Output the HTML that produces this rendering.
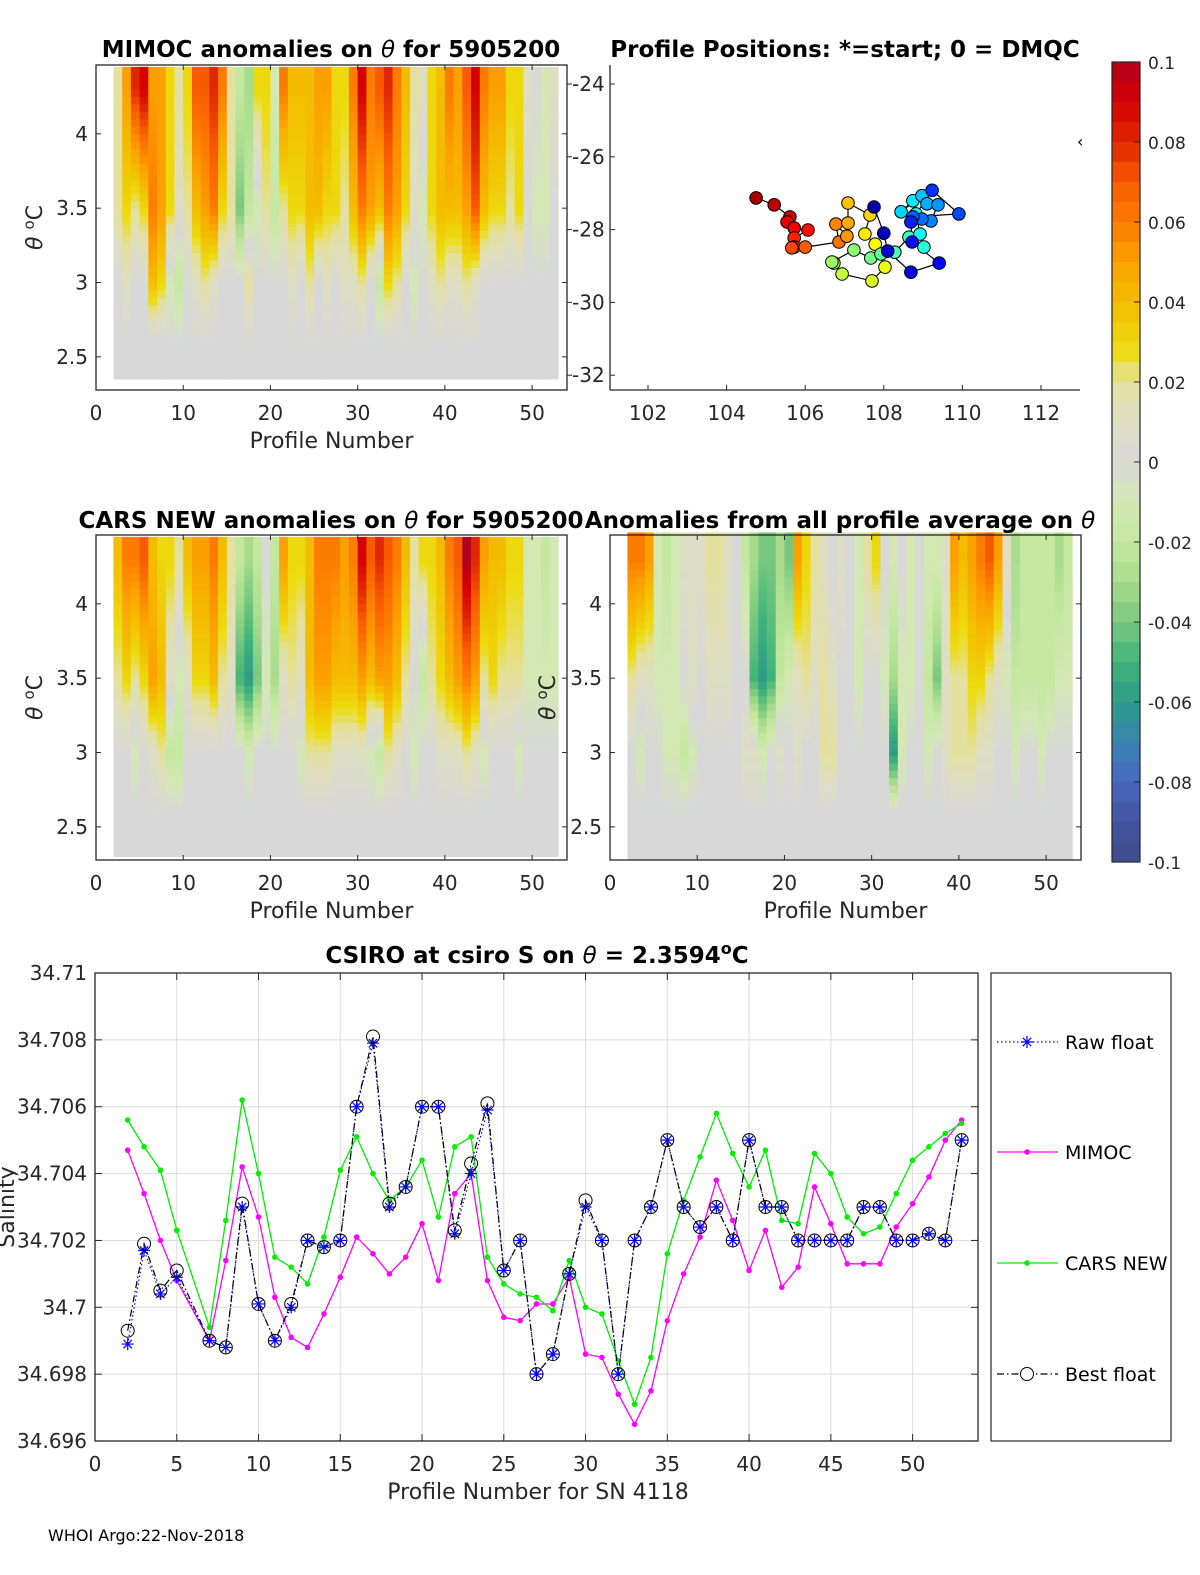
<!DOCTYPE html>
<html><head><meta charset="utf-8"><style>
html,body{margin:0;padding:0;background:#fff;width:1200px;height:1575px;overflow:hidden;}
svg{display:block;font-family:"DejaVu Sans","Liberation Sans",sans-serif;}
.t{font-size:23px;font-weight:bold;fill:#000;}
</style></head><body>
<svg id="fig" width="1200" height="1575" viewBox="0 0 1200 1575" xmlns="http://www.w3.org/2000/svg">
<g id="hm1"></g>
<g id="hm2"></g>
<g id="hm3"></g>
<g id="map"></g>
<g id="cbar"></g>
<g id="sal"></g>
<text class="t" x="331" y="57" text-anchor="middle">MIMOC anomalies on <tspan font-style="italic" font-weight="normal">θ</tspan>  for 5905200</text>
<text class="t" x="845" y="57" text-anchor="middle">Profile Positions: *=start; 0 = DMQC</text>
<text class="t" x="331" y="528" text-anchor="middle">CARS NEW anomalies on <tspan font-style="italic" font-weight="normal">θ</tspan> for 5905200</text>
<text class="t" x="840" y="528" text-anchor="middle">Anomalies from all profile average on <tspan font-style="italic" font-weight="normal">θ</tspan></text>
<text class="t" x="537" y="963" text-anchor="middle">CSIRO at csiro S on <tspan font-style="italic" font-weight="normal">θ</tspan> = 2.3594<tspan dy="-9" font-size="16">o</tspan><tspan dy="9">C</tspan></text>
<text x="48" y="1541" font-size="16" fill="#000">WHOI Argo:22-Nov-2018</text>
<text x="1077" y="147" font-size="16" fill="#000">‹</text>
</svg>
<script>
// ---------- heatmap data (units of 0.01 anomaly) at theta ~4.3 / ~3.5 / ~3.0 ----------
const profiles=[2,3,4,5,6,7,8,9,10,11,12,13,14,15,16,17,18,19,20,21,22,23,24,25,26,27,28,29,30,31,32,33,34,35,36,37,38,39,40,41,42,43,44,45,46,47,48,49,50,51,52];
const mimocTop=[2,5,8,9,5,5,3,2,3,7,7,8,6,2,-2,-3,3,3,-1,6,4,4,4,5,5,3,3,6,9,6,7,8,6,4,2,1,3,4,6,5,7,9,6,5,5,3,3,1,0,-1,1];
const mimocMid=[2,3,2,3,6,5,3,1,2,4,5,6,3,2,-4,-2,-1,2,-2,2,3,3,4,4,3,3,2,4,6,5,4,6,5,3,1,-1,3,4,4,4,5,7,4,3,3,2,3,0,-1,-1,0];
const mimocLow=[0,1,0,0,4,3,-1,-2,0,1,2,1,0,0,0,2,0,0,0,0,1,0,2,0,1,0,1,1,2,0,-2,3,2,0,-1,0,1,2,1,1,2,1,0,0,0,0,0,0,0,0,0];
const carsTop=[4,6,6,7,4,3,3,2,4,5,5,6,4,2,-2,-3,-2,0,-2,5,3,3,4,6,6,6,5,6,9,7,8,7,6,4,2,3,3,4,6,7,10,8,5,4,4,3,3,-1,-1,-2,-1];
const carsMid=[2,3,2,3,5,4,1,-1,1,3,3,4,2,1,-5,-6,-4,-1,-3,1,2,1,4,5,5,4,4,4,5,4,5,5,4,2,0,-2,2,3,4,5,6,5,2,3,2,2,2,-1,-1,-1,-1];
const carsLow=[0,0,-1,0,1,2,-2,-2,0,0,0,0,0,0,0,-1,0,0,0,0,0,-1,2,2,2,1,1,1,1,-1,-2,2,1,0,-1,0,0,1,1,1,2,1,-1,0,0,0,-1,0,0,0,0];
const avgTop=[6,6,5,-1,-2,-1,1,1,1,2,2,1,0,-2,-3,-4,-4,-3,-4,5,3,2,1,0,1,0,-1,2,3,0,-1,0,-1,0,-1,-1,1,5,4,5,6,7,5,1,-3,-2,-2,-2,-2,-3,-2];
const avgMid=[2,1,1,-1,-1,-1,0,1,0,1,1,1,0,0,-5,-6,-5,-2,-1,1,2,1,2,1,0,0,-1,0,0,-1,-3,-1,-1,0,-2,-4,1,2,2,3,3,2,1,-1,-2,-2,-2,-2,-2,-1,-1];
const avgLow=[0,-1,0,0,-1,-1,-2,-1,0,0,0,0,0,1,1,-1,0,1,0,1,0,0,2,2,0,0,0,0,0,0,-6,-1,0,0,-1,0,1,2,2,2,1,1,0,0,-1,0,0,-1,0,0,0];

// ---------- salinity chart data ----------
const profNum=[2,3,4,5,7,8,9,10,11,12,13,14,15,16,17,18,19,20,21,22,23,24,25,26,27,28,29,30,31,32,33,34,35,36,37,38,39,40,41,42,43,44,45,46,47,48,49,50,51,52,53];
const rawFloat=[34.6989,34.7017,34.7004,34.7009,34.6990,34.6988,34.7030,34.7001,34.6990,34.7000,34.7020,34.7018,34.7020,34.7060,34.7079,34.7030,34.7036,34.7060,34.7060,34.7022,34.7040,34.7059,34.7011,34.7020,34.6980,34.6986,34.7010,34.7030,34.7020,34.6980,34.7020,34.7030,34.7050,34.7030,34.7024,34.7030,34.7020,34.7050,34.7030,34.7030,34.7020,34.7020,34.7020,34.7020,34.7030,34.7030,34.7020,34.7020,34.7022,34.7020,34.7050];
const bestFloat=[34.6993,34.7019,34.7005,34.7011,34.6990,34.6988,34.7031,34.7001,34.6990,34.7001,34.7020,34.7018,34.7020,34.7060,34.7081,34.7031,34.7036,34.7060,34.7060,34.7023,34.7043,34.7061,34.7011,34.7020,34.6980,34.6986,34.7010,34.7032,34.7020,34.6980,34.7020,34.7030,34.7050,34.7030,34.7024,34.7030,34.7020,34.7050,34.7030,34.7030,34.7020,34.7020,34.7020,34.7020,34.7030,34.7030,34.7020,34.7020,34.7022,34.7020,34.7050];
const mimocS=[34.7047,34.7034,34.7020,34.7008,34.6990,34.7014,34.7042,34.7027,34.7003,34.6991,34.6988,34.6998,34.7009,34.7021,34.7016,34.7010,34.7015,34.7025,34.7008,34.7034,34.7040,34.7008,34.6997,34.6996,34.7001,34.7001,34.7009,34.6986,34.6985,34.6974,34.6965,34.6975,34.6996,34.7010,34.7021,34.7038,34.7026,34.7011,34.7023,34.7006,34.7012,34.7036,34.7025,34.7013,34.7013,34.7013,34.7024,34.7031,34.7039,34.7050,34.7056];
const carsS=[34.7056,34.7048,34.7041,34.7023,34.6994,34.7026,34.7062,34.7040,34.7015,34.7012,34.7007,34.7021,34.7041,34.7051,34.7040,34.7032,34.7036,34.7044,34.7027,34.7048,34.7051,34.7015,34.7007,34.7004,34.7003,34.6999,34.7014,34.7000,34.6998,34.6984,34.6971,34.6985,34.7016,34.7032,34.7045,34.7058,34.7046,34.7036,34.7047,34.7026,34.7025,34.7046,34.7040,34.7027,34.7022,34.7024,34.7034,34.7044,34.7048,34.7052,34.7055];
const salTicks=[34.696,34.698,34.7,34.702,34.704,34.706,34.708,34.71];
const salTickLabels=["34.696","34.698","34.7","34.702","34.704","34.706","34.708","34.71"];
const xTicksS=[0,5,10,15,20,25,30,35,40,45,50];

// ---------- map data ----------
const mapLon=[104.75,105.21,105.61,105.54,105.72,106.07,105.72,105.72,105.66,106.0,106.86,106.78,107.06,107.09,107.09,107.65,107.52,107.78,108.03,107.70,106.94,106.73,106.68,107.24,107.67,107.93,108.28,108.64,109.02,108.92,108.82,108.74,108.44,108.97,109.10,109.38,109.20,108.97,108.74,109.91,109.23,108.69,108.72,109.41,108.69,108.10,108.00,107.75];
const mapLat=[-27.13,-27.32,-27.65,-27.79,-27.96,-28.01,-28.23,-28.48,-28.50,-28.48,-28.34,-27.85,-28.18,-27.82,-27.27,-27.60,-28.12,-28.40,-29.03,-29.41,-29.22,-28.92,-28.89,-28.56,-28.78,-28.67,-28.62,-28.21,-28.48,-28.12,-27.57,-27.21,-27.51,-27.07,-27.29,-27.32,-27.76,-27.71,-27.65,-27.57,-26.92,-27.79,-28.34,-28.92,-29.17,-28.59,-28.10,-27.38];
const mapXTicks=[102,104,106,108,110,112];
const mapYTicks=[-24,-26,-28,-30,-32];

const cbTicks=[0.1,0.08,0.06,0.04,0.02,0,-0.02,-0.04,-0.06,-0.08,-0.1];
const cbTickLabels=["0.1","0.08","0.06","0.04","0.02","0","-0.02","-0.04","-0.06","-0.08","-0.1"];
const thetaTicks=[2.5,3,3.5,4];
const profTicks=[0,10,20,30,40,50];

const cmStops=[[-0.1,[60,76,136]],[-0.09,[68,84,160]],[-0.08,[72,104,192]],[-0.07,[58,132,176]],[-0.06,[44,156,136]],[-0.05,[64,180,120]],[-0.04,[120,200,128]],[-0.03,[168,220,140]],[-0.02,[196,232,160]],[-0.01,[212,232,180]],[0,[216,216,216]],[0.01,[222,222,196]],[0.02,[228,224,160]],[0.028,[236,220,16]],[0.04,[244,188,0]],[0.05,[252,160,0]],[0.06,[252,124,0]],[0.07,[248,90,0]],[0.08,[224,40,0]],[0.09,[212,0,0]],[0.1,[176,0,30]]];
function cmap(v){
  v=Math.max(-0.1,Math.min(0.1,v));
  for(let i=0;i<cmStops.length-1;i++){const a=cmStops[i],b=cmStops[i+1];
    if(v<=b[0]){const f=(v-a[0])/(b[0]-a[0]);const c=a[1].map((x,j)=>Math.round(x+(b[1][j]-x)*f));return `rgb(${c[0]},${c[1]},${c[2]})`;}}
  return 'rgb(176,0,30)';
}
function jet(f){
  const r=Math.max(0,Math.min(1,1.5-Math.abs(4*f-3))),g=Math.max(0,Math.min(1,1.5-Math.abs(4*f-2))),b=Math.max(0,Math.min(1,1.5-Math.abs(4*f-1)));
  return `rgb(${Math.round(r*255)},${Math.round(g*255)},${Math.round(b*255)})`;
}
const NS='http://www.w3.org/2000/svg';
function mk(tag,attrs,parent){const e=document.createElementNS(NS,tag);for(const k in attrs)e.setAttribute(k,attrs[k]);parent.appendChild(e);return e;}
function txt(parent,x,y,s,anchor,size){const e=mk('text',{x:x,y:y,'text-anchor':anchor||'middle','font-size':size||20,fill:'#262626'},parent);e.textContent=s;return e;}

function profileAt(t,top,mid,low){
  if(t>=4.3)return top;
  if(t>=3.5)return mid+(top-mid)*(t-3.5)/0.8;
  if(t>=3.0)return low+(mid-low)*(t-3.0)/0.5;
  if(t>=2.6)return low*(t-2.6)/0.4;
  return 0;
}
function heatmap(gid,x0,y0,w,h,tops,mids,lows,tMin,tMax,yTitleX){
  const g=document.getElementById(gid);
  const sx=p=>x0+p*(w/54), sy=t=>y0+(4.4628-t)*148.7;
  profiles.forEach((p,i)=>{
    for(let t=tMin;t<tMax-0.001;t+=0.05){
      const v=profileAt(t+0.025,tops[i],mids[i],lows[i])/100;
      const r=mk('rect',{x:sx(p).toFixed(2),y:sy(t+0.05).toFixed(2),width:(w/54+0.4).toFixed(2),height:(0.05*148.7+0.4).toFixed(2),fill:cmap(v)},g);
      
      
    }
  });
  mk('rect',{x:x0,y:y0,width:w,height:h,fill:'none',stroke:'#262626','stroke-width':1.3},g);
  profTicks.forEach(p=>{mk('line',{x1:sx(p),x2:sx(p),y1:y0+h,y2:y0+h-5,stroke:'#262626'},g);mk('line',{x1:sx(p),x2:sx(p),y1:y0,y2:y0+5,stroke:'#262626'},g);
    const l=txt(g,sx(p),y0+h+30,String(p));});
  thetaTicks.forEach(t=>{mk('line',{x1:x0,x2:x0+5,y1:sy(t),y2:sy(t),stroke:'#262626'},g);mk('line',{x1:x0+w,x2:x0+w-5,y1:sy(t),y2:sy(t),stroke:'#262626'},g);
    const l=txt(g,x0-8,sy(t)+7,String(t),'end');});
  const xt=txt(g,x0+w/2,y0+h+58,'Profile Number','middle',22);
  
  const yt=mk('text',{transform:`translate(${yTitleX},${y0+h/2}) rotate(-90)`,'text-anchor':'middle','font-size':22,fill:'#262626'},g);
  yt.innerHTML='<tspan font-style="italic">θ</tspan> <tspan dy="-8" font-size="15">o</tspan><tspan dy="8">C</tspan>';
  
}
heatmap('hm1',96,65,471,325,mimocTop,mimocMid,mimocLow,2.35,4.41,42);
heatmap('hm2',96,535,471,325,carsTop,carsMid,carsLow,2.3,4.43,42);
heatmap('hm3',610,535,471,325,avgTop,avgMid,avgLow,2.28,4.44,555);

// ---------- profile position map ----------
(function(){
  const g=document.getElementById('map');
  const x0=610,y0=65,w=470,h=325;
  const lx=lon=>648+(lon-102)*39.3, ly=lat=>84+(-24-lat)*36.4;
  mk('line',{x1:x0,y1:y0,x2:x0,y2:y0+h,stroke:'#262626','stroke-width':1.3},g);
  mk('line',{x1:x0,y1:y0+h,x2:x0+w,y2:y0+h,stroke:'#262626','stroke-width':1.3},g);
  let d='';mapLon.forEach((v,i)=>{d+=(i?'L':'M')+lx(v).toFixed(1)+','+ly(mapLat[i]).toFixed(1);});
  const path=mk('path',{d:d,fill:'none',stroke:'#000','stroke-width':1.2},g);
  
  
  const n=mapLon.length;
  mapLon.forEach((v,i)=>{
    const c=mk('circle',{cx:lx(v).toFixed(1),cy:ly(mapLat[i]).toFixed(1),r:6.3,fill:jet(1-i/(n-1)*0.92-0.04),stroke:'#000','stroke-width':1},g);
    
    
  });
  mapXTicks.forEach(t=>{mk('line',{x1:lx(t),x2:lx(t),y1:y0+h,y2:y0+h-5,stroke:'#262626'},g);
    const l=txt(g,lx(t),y0+h+30,String(t));});
  mapYTicks.forEach(t=>{mk('line',{x1:x0,x2:x0+5,y1:ly(t),y2:ly(t),stroke:'#262626'},g);
    mk('line',{x1:567,x2:572,y1:ly(t),y2:ly(t),stroke:'#262626'},g);
    const l=txt(g,572,ly(t)+7,String(t),'start');});
})();

// ---------- colorbar ----------
(function(){
  const g=document.getElementById('cbar');
  const x0=1112,y0=62,w=28,h=800;
  const cy=v=>y0+(0.1-v)/0.2*h;
  for(let i=0;i<40;i++){const v=0.1-(i+0.5)*0.005;mk('rect',{x:x0,y:(y0+i*h/40).toFixed(2),width:w,height:(h/40+0.5).toFixed(2),fill:cmap(v)},g);}
  mk('rect',{x:x0,y:y0,width:w,height:h,fill:'none',stroke:'#262626','stroke-width':1.2},g);
  cbTicks.forEach((t,i)=>{mk('line',{x1:x0+w-6,x2:x0+w,y1:cy(t),y2:cy(t),stroke:'#262626'},g);
    const l=txt(g,x0+36,cy(t)+7,cbTickLabels[i],'start',17);});
})();

// ---------- salinity chart ----------
(function(){
  const g=document.getElementById('sal');
  const x0=95,y0=973,w=883,h=468;
  const sx=p=>x0+p*(w/54), sy=v=>y0+(34.71-v)/0.002*66.86;
  const yt=mk('text',{transform:`translate(14,${y0+h/2}) rotate(-90)`,'text-anchor':'middle','font-size':22,fill:'#262626'},g);
  yt.textContent='Salinity';
  
  xTicksS.forEach(p=>{mk('line',{x1:sx(p),x2:sx(p),y1:y0,y2:y0+h,stroke:'#dcdcdc'},g);});
  salTicks.forEach(v=>{mk('line',{x1:x0,x2:x0+w,y1:sy(v),y2:sy(v),stroke:'#dcdcdc'},g);});
  mk('rect',{x:x0,y:y0,width:w,height:h,fill:'none',stroke:'#262626','stroke-width':1.3},g);
  xTicksS.forEach(p=>{mk('line',{x1:sx(p),x2:sx(p),y1:y0,y2:y0+7,stroke:'#262626'},g);mk('line',{x1:sx(p),x2:sx(p),y1:y0+h,y2:y0+h-7,stroke:'#262626'},g);
    const l=txt(g,sx(p),y0+h+30,String(p));});
  salTicks.forEach((v,i)=>{mk('line',{x1:x0,x2:x0+7,y1:sy(v),y2:sy(v),stroke:'#262626'},g);mk('line',{x1:x0+w,x2:x0+w-7,y1:sy(v),y2:sy(v),stroke:'#262626'},g);
    const l=mk('text',{x:x0-8,y:sy(v)+7,'text-anchor':'end','font-size':20,fill:'#262626',stroke:'#fff','stroke-width':4,'paint-order':'stroke'},g);l.textContent=salTickLabels[i];});
  const xt=txt(g,538,y0+h+58,'Profile Number for SN 4118','middle',22);
  
  function pathOf(arr){return arr.map((v,i)=>(i?'L':'M')+sx(profNum[i]).toFixed(1)+','+sy(v).toFixed(1)).join('');}
  const pm=mk('path',{d:pathOf(mimocS),fill:'none',stroke:'#ff00ff','stroke-width':1.3},g);
  
  const pc=mk('path',{d:pathOf(carsS),fill:'none',stroke:'#00ee00','stroke-width':1.3},g);
  
  mimocS.forEach((v,i)=>{const c=mk('circle',{cx:sx(profNum[i]),cy:sy(v),r:2.8,fill:'#ff00ff'},g);});
  carsS.forEach((v,i)=>{const c=mk('circle',{cx:sx(profNum[i]),cy:sy(v),r:2.8,fill:'#00ee00'},g);});
  const pr=mk('path',{d:pathOf(rawFloat),fill:'none',stroke:'#0000ff','stroke-width':1.2,'stroke-dasharray':'1.5,2.5'},g);
  
  const pb=mk('path',{d:pathOf(bestFloat),fill:'none',stroke:'#000','stroke-width':1.2,'stroke-dasharray':'7,3,1.5,3'},g);
  
  function star(cx,cy,parent){const s=6;let d=`M${cx-s},${cy}L${cx+s},${cy}M${cx},${cy-s}L${cx},${cy+s}M${cx-s*0.7},${cy-s*0.7}L${cx+s*0.7},${cy+s*0.7}M${cx-s*0.7},${cy+s*0.7}L${cx+s*0.7},${cy-s*0.7}`;return mk('path',{d:d,stroke:'#0000ff','stroke-width':1.2,fill:'none'},parent);}
  rawFloat.forEach((v,i)=>{const s=star(sx(profNum[i]),sy(v),g);});
  bestFloat.forEach((v,i)=>{const c=mk('circle',{cx:sx(profNum[i]),cy:sy(v),r:6.5,fill:'none',stroke:'#000','stroke-width':1},g);});
  const lg=mk('g',{},g);
  
  
  mk('rect',{x:991,y:973,width:180,height:468,fill:'#fff',stroke:'#262626','stroke-width':1.2},lg);
  const entries=[['Raw float',1042,'#0000ff','1.5,2.5','star'],['MIMOC',1152,'#ff00ff','','dot'],['CARS NEW',1263,'#00ee00','','dot'],['Best float',1374,'#000','7,3,1.5,3','circ']];
  entries.forEach(e=>{
    const eg=mk('g',{},lg);
    
    
    mk('line',{x1:997,x2:1058,y1:e[1],y2:e[1],stroke:e[2],'stroke-width':1.2,'stroke-dasharray':e[3]},eg);
    if(e[4]==='star')star(1027,e[1],eg);
    if(e[4]==='dot')mk('circle',{cx:1027,cy:e[1],r:2.8,fill:e[2]},eg);
    if(e[4]==='circ')mk('circle',{cx:1027,cy:e[1],r:6.5,fill:'#fff',stroke:'#000'},eg);
    const t=txt(eg,1065,e[1]+7,e[0],'start',19);t.setAttribute('fill','#000');
  });
})();
</script>
</body></html>
